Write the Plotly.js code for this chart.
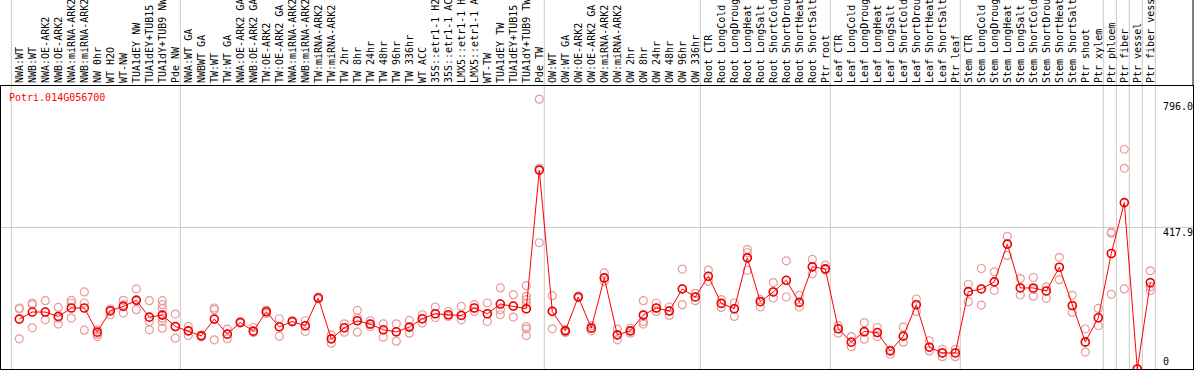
<!DOCTYPE html>
<html>
<head>
<meta charset="utf-8">
<script src="https://cdn.plot.ly/plotly-3.0.1.min.js"></script>
<style>html,body{margin:0;padding:0;background:#fff;}#chart{width:1194px;height:370px;}</style>
</head>
<body>
<div id="chart"></div>
<script>
const geneId = "Potri.014G056700";

const labels = [
  "NWA:WT","NWB:WT","NWA:OE-ARK2","NWB:OE-ARK2","NWA:miRNA-ARK2","NWB:miRNA-ARK2","NW 0hr","WT H2O","WT-NW",
  "TUA1dEY NW","TUA1dEY+TUB15 NW","TUA1dY+TUB9 NW","Pde NW",
  "NWA:WT GA","NWBWT GA","TW:WT","TW:WT GA","NWA:OE-ARK2 GA","NWB:OE-ARK2 GA","TW:OE-ARK2","TW:OE-ARK2 GA",
  "NWA:miRNA-ARK2","NWB:miRNA-ARK2","TW:miRNA-ARK2","TW:miRNA-ARK2","TW 2hr","TW 8hr","TW 24hr","TW 48hr","TW 96hr","TW 336hr",
  "WT ACC","35S::etr1-1 H2O","35S::etr1-1 ACC","LMX5::etr1-1 H2O","LMX5::etr1-1 ACC","WT-TW","TUA1dEY TW","TUA1dEY+TUB15 TW","TUA1dY+TUB9 TW","Pde TW",
  "OW:WT","OW:WT GA","OW:OE-ARK2","OW:OE-ARK2 GA","OW:miRNA-ARK2","OW:miRNA-ARK2","OW 2hr","OW 8hr","OW 24hr","OW 48hr","OW 96hr","OW 336hr",
  "Root CTR","Root LongCold","Root LongDrought","Root LongHeat","Root LongSalt","Root ShortCold","Root ShortDrought","Root ShortHeat","Root ShortSalt","Ptr root",
  "Leaf CTR","Leaf LongCold","Leaf LongDrought","Leaf LongHeat","Leaf LongSalt","Leaf ShortCold","Leaf ShortDrought","Leaf ShortHeat","Leaf ShortSalt","Ptr leaf",
  "Stem CTR","Stem LongCold","Stem LongDrought","Stem LongHeat","Stem LongSalt","Stem ShortCold","Stem ShortDrought","Stem ShortHeat","Stem ShortSalt","Ptr shoot",
  "Ptr xylem","Ptr phloem","Ptr fiber","Ptr vessel","Ptr fiber vessel"
];

const means = [
  147.3,168,168,155,180,180,108.7,172,184.7,202.5,153,159,125.4,
  112.6,97.8,147.3,102.8,137.3,111.7,169,124.5,140.2,127.4,209.5,88.9,121.5,142.3,132.5,115.6,109.7,123.6,
  148.2,163,160,158,180,163,191.7,185.8,177.8,586.8,
  169.8,112.6,212.5,120.6,268.8,100.8,112.6,159,180,171,236.2,212.5,
  273.6,193.5,177.8,328,198.6,227.3,261.7,196.5,301.4,295.5,
  118.6,79.1,110.6,107.6,53.3,96.9,189.7,64.3,47.4,47.4,
  228.2,236.2,257,368.4,239.2,239.2,230.3,300.2,186.7,80,
  151.2,340.8,491,0,254.9
];

const replicates = [
  [180,177,89],[194.7,189.7,121.5],[201.5,168,145.2],[181.7,150,132.5],[202.5,194.7,150.3],[227.3,194.7,114.7],
  [115.6,102.8,95.7],[177,169.8,160],[202.5,189.7,165],[236.2,204.5,174.9],[201.5,140.2,115.6],
  [201.5,189.7,178,160,150,140.2,120.6],[162,125,91],
  [125.4,112.6,98.7],[100,98,95],[180,175,86],[117.7,102.8,88.9],[140,137,135],[122.4,111.7,107.6],
  [174,169,164],[148.2,124.5,96.9],[142,140,138],[142.3,127.4,110.6],[212,209.5,207],[100.8,88.9,76.2],
  [133.4,121.5,108.8],[172.8,150.3,142.3,108.8],[142.3,132.5,125.4],[133.4,115.6,94],[133.4,109.7,82.1],
  [143.2,123.6,105.8],[160,148.2,135.4],[182.9,163,152],[169.8,160,155],[184.7,158,145.2],[189.7,180,169.8],
  [194.7,163,140.2],[239.2,191.7,174.9,160],[219.3,185.8,153.2],
  [246,214.3,204.5,194.7,177.8,125.4,118.6,98.7],[796,592,372.5],
  [216.4,172,118.6],[116,112.6,108],[215,212.5,210],[127.4,120.6,112.6],[283.6,268.8,258.8],[117.7,100.8,86],
  [120.6,112.6,105.8],[201.5,159,140.2,132.5],[194.7,180,169.8],[183,172,158],[294.9,236.2,189.7],[223.3,212.5,201.5],
  [291.9,273.6,258.8],[204.5,193.5,181.7],[194.7,177.8,155],[352.7,343,328,291.4],[204.5,198.6,182.9],
  [254.9,227.3,209.5],[319.2,261.7,212.5],[217.3,196.5,182.9],[323.3,301.4,280.7],[306.4,295.5,291.4],
  [127.4,118.6,105.8],[95.7,79.1,66],[137,108,88],[122.4,107.6,95.7],[56.3,53.3,43.5],[123.6,96.9,79.1],
  [206.5,189.7,169.8],[83,64.3,53.3],[58.3,47.4,36.4],[58.3,47.4,36.4],
  [250,228.2,198.6],[296.5,236.2,188.7],[286.6,257,232.2],[391.2,368.4,335],[266.8,239.2,218.4],[270,235,215],
  [242.2,230.3,208.5],[329.5,300.2,263.7],[217.3,187.7,166.9],[118,78,50],
  [178.8,151.2,128.4],[403.7,400.7,220.3],[648.4,592.1,236.2],[0,0,0],[289.7,243.2,231.3]
];

// index of last category before each group separator
const groupEnds = [-1,12,40,52,62,72,83,84,85,86,87];

const yTickVals = [796.0, 417.9, 0];
const yTickText = ["796.0", "417.9", "0"];

// ---------- build ----------
const idx = labels.map((_, i) => i);
const repX = [], repY = [];
replicates.forEach((arr, i) => arr.forEach(v => { repX.push(i); repY.push(v); }));

const mono = "DejaVu Sans Mono, monospace";

const traces = [
  {
    x: repX, y: repY, type: "scatter", mode: "markers",
    marker: {symbol: "circle-open", size: 8, color: "#ea9a9a", line: {width: 1.2, color: "#ea9a9a"}},
    hoverinfo: "skip", cliponaxis: true
  },
  {
    x: idx, y: means, type: "scatter", mode: "lines+markers",
    line: {color: "#ff0000", width: 1},
    marker: {symbol: "circle-open", size: 8, color: "#ee0000", line: {width: 1.6, color: "#ee0000"}},
    cliponaxis: true
  }
];

const topExt = 1 + 86 / 283;
const shapes = [];
groupEnds.forEach(b => {
  shapes.push({type: "line", xref: "x", yref: "paper", x0: b + 0.385, x1: b + 0.385, y0: 0, y1: topExt,
    line: {color: "#c8c8c8", width: 1}, layer: "below"});
});
shapes.push({type: "line", xref: "paper", yref: "y", x0: 0, x1: 1, y0: yTickVals[1], y1: yTickVals[1],
  line: {color: "#c8c8c8", width: 1}, layer: "below"});
shapes.push({type: "line", xref: "paper", yref: "paper", x0: 1, x1: 1, y0: 1, y1: topExt,
  line: {color: "#000", width: 1}});

const yLabelY = [774, 402.2, 21.5];
const annotations = [
  {xref: "x", yref: "y", x: -0.92, y: 801.7, xanchor: "left", yanchor: "middle", showarrow: false,
   text: geneId, font: {family: mono, size: 10, color: "#ff0000"}}
];
yTickText.forEach((t, k) => annotations.push({
  xref: "x", yref: "y", x: 87.82, y: yLabelY[k], xanchor: "left", yanchor: "middle", showarrow: false,
  text: t, font: {family: mono, size: 10, color: "#000"}
}));

const layout = {
  width: 1194, height: 370,
  margin: {l: 1, r: 1, t: 86, b: 1, pad: 0},
  paper_bgcolor: "#fff", plot_bgcolor: "#fff",
  showlegend: false,
  xaxis: {
    range: [-1.408, 90.285], side: "top", tickmode: "array", tickvals: idx, ticktext: labels,
    tickangle: -90, ticks: "", showgrid: false, zeroline: false,
    showline: true, mirror: true, linecolor: "#000", linewidth: 1,
    tickfont: {family: mono, size: 10, color: "#000"}, automargin: false, fixedrange: true
  },
  yaxis: {
    range: [0, 835], showticklabels: false, ticks: "", showgrid: false, zeroline: false,
    showline: true, mirror: true, linecolor: "#000", linewidth: 1, automargin: false, fixedrange: true
  },
  shapes: shapes,
  annotations: annotations
};

Plotly.newPlot("chart", traces, layout, {staticPlot: true, displayModeBar: false});
</script>
</body>
</html>
